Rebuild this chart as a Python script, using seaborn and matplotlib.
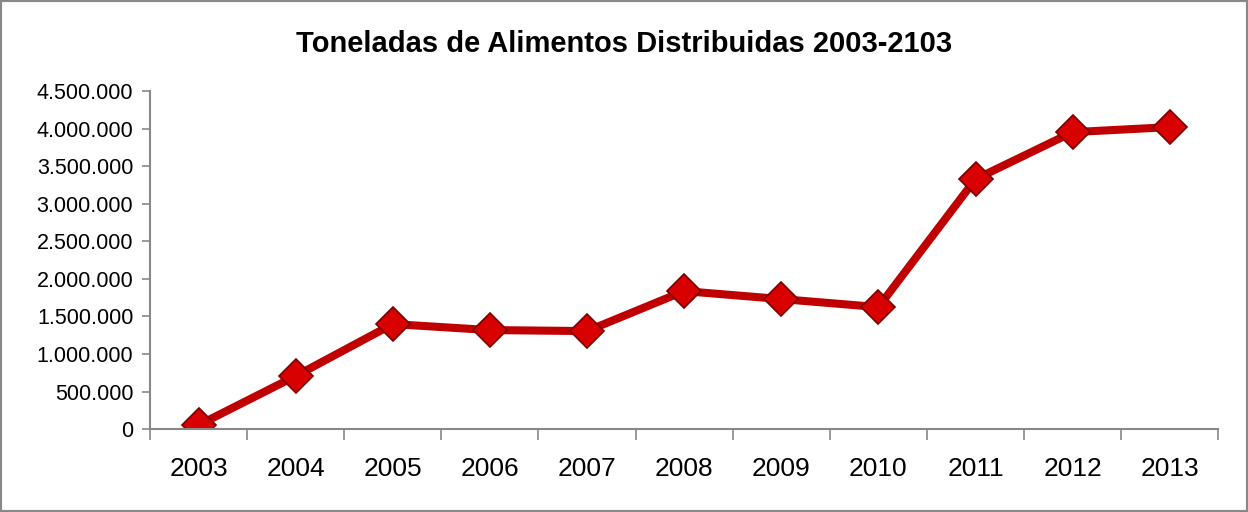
import pandas as pd
import matplotlib.pyplot as plt
import matplotlib.ticker as mticker
from matplotlib.patches import Rectangle
import seaborn as sns

years = ['2003', '2004', '2005', '2006', '2007', '2008', '2009', '2010', '2011', '2012', '2013']
toneladas = [53000, 706000, 1398000, 1318000, 1305000, 1837000, 1731000, 1624000, 3328000, 3954000, 4021000]
y_ticks = [0, 500000, 1000000, 1500000, 2000000, 2500000, 3000000, 3500000, 4000000, 4500000]
title = 'Toneladas de Alimentos Distribuidas 2003-2103'

df = pd.DataFrame({'year': years, 'toneladas': toneladas})

sns.set_style('white')
plt.rcParams['font.family'] = ['Liberation Sans', 'DejaVu Sans']
plt.rcParams['text.color'] = 'black'
plt.rcParams['xtick.labelcolor'] = 'black'
plt.rcParams['ytick.labelcolor'] = 'black'

fig = plt.figure(figsize=(12.48, 5.12), dpi=100)
ax = fig.add_axes([0.1202, 0.162, 0.856, 0.660])

sns.lineplot(data=df, x='year', y='toneladas', ax=ax, color='#C00000',
             linewidth=5.8, marker='D', markersize=17.5,
             markerfacecolor='#D80000', markeredgecolor='#7A0000',
             markeredgewidth=1.2, sort=False)

ax.set_xlim(-0.5, len(years) - 0.5)
ax.set_ylim(0, 4500000)
ax.set_yticks(y_ticks)
ax.yaxis.set_major_formatter(mticker.FuncFormatter(lambda v, p: f"{int(v):,}".replace(",", ".")))
ax.set_xticks(range(len(years)))
ax.set_xticklabels(years)
ax.set_xticks([i - 0.5 for i in range(len(years) + 1)], minor=True)

ax.tick_params(axis='x', which='major', length=0, labelsize=19, pad=20)
ax.tick_params(axis='x', which='minor', length=8, width=1.2, color='#888888', direction='out')
ax.tick_params(axis='y', which='major', length=6, width=1.2, color='#888888', direction='out',
               labelsize=15.5, pad=6)
ax.xaxis.set_tick_params(bottom=True, which='minor')
ax.yaxis.set_tick_params(left=True)

ax.set_xlabel('')
ax.set_ylabel('')
for side in ['top', 'right']:
    ax.spines[side].set_visible(False)
for side in ['left', 'bottom']:
    ax.spines[side].set_color('#888888')
    ax.spines[side].set_linewidth(1.5)
ax.grid(False)

fig.suptitle(title, x=0.5, y=0.915, va='center', fontsize=21, fontweight='bold', color='black')

fig.patches.append(Rectangle((0.0008, 0.002), 0.9984, 0.996, transform=fig.transFigure,
                             fill=False, edgecolor='#888888', linewidth=1.5))

fig.savefig('out.png', dpi=100)
